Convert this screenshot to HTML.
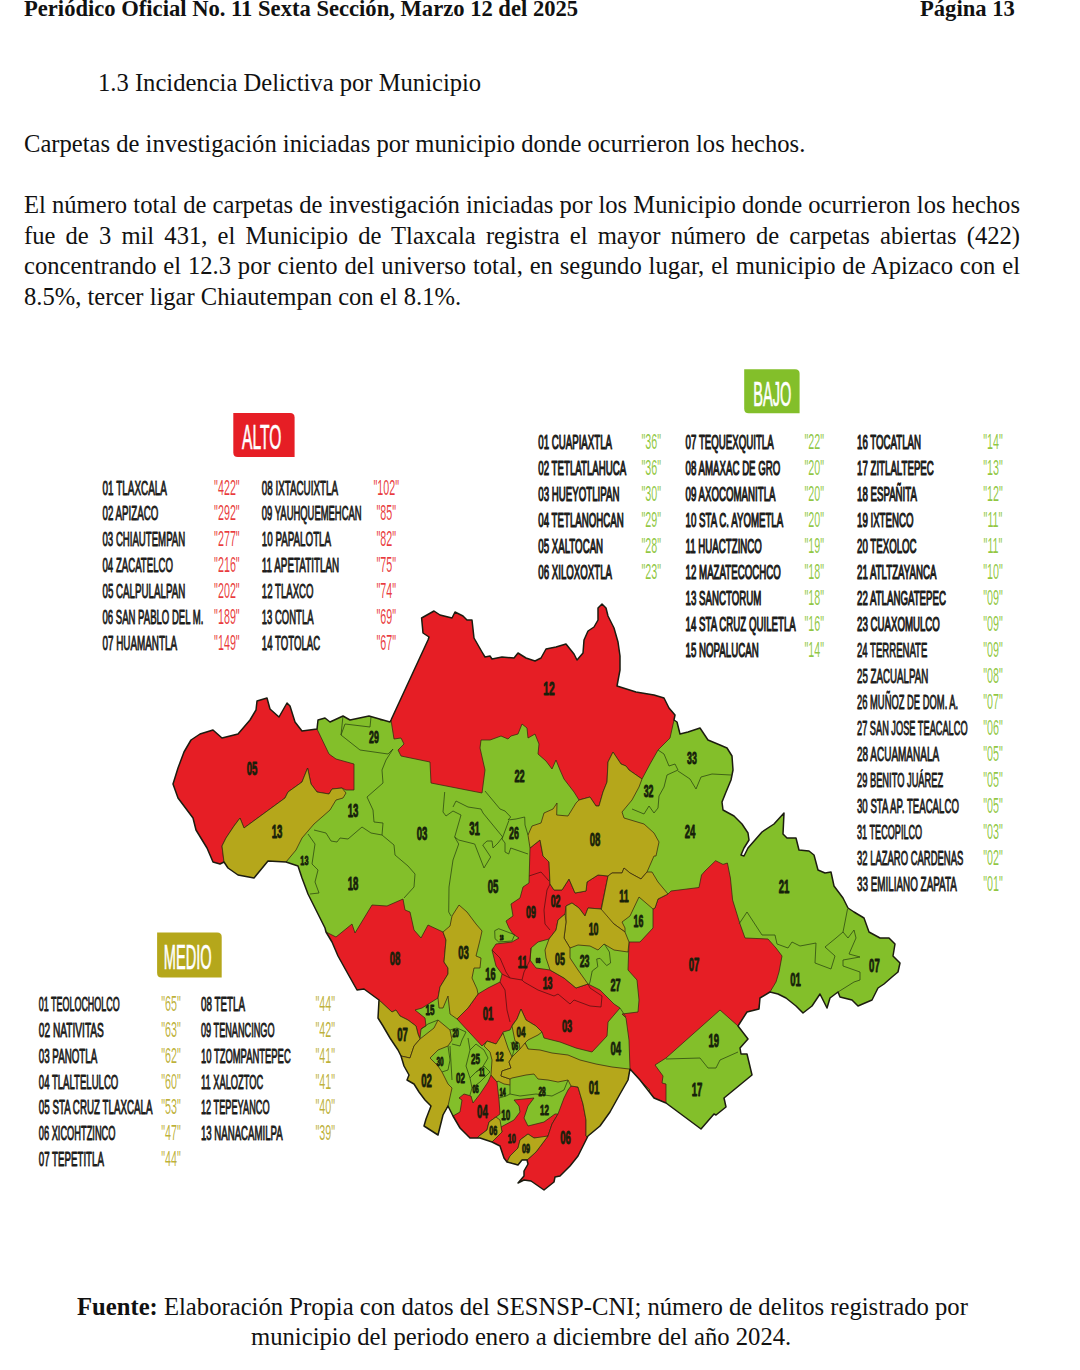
<!DOCTYPE html>
<html><head><meta charset="utf-8">
<style>
html,body{margin:0;padding:0;background:#fff;}
body{width:1080px;height:1370px;position:relative;overflow:hidden;font-family:"Liberation Serif",serif;color:#111;}
.t{position:absolute;white-space:nowrap;font-size:24.6px;line-height:30px;}
.h{position:absolute;white-space:nowrap;font-size:22.6px;line-height:26px;font-weight:bold;}
.j{position:absolute;left:24px;width:996px;font-size:24.6px;line-height:30.4px;text-align:justify;text-align-last:justify;white-space:nowrap;}
#map{position:absolute;left:0;top:350px;}
</style></head><body>
<div class="h" id="h1" style="left:24px;top:-4px;">Periódico Oficial No. 11 Sexta Sección, Marzo 12 del 2025</div>
<div class="h" id="h2" style="left:920px;top:-4px;">Página 13</div>
<div class="t" id="t1" style="left:98px;top:67.6px;">1.3 Incidencia Delictiva por Municipio</div>
<div class="t" id="t2" style="left:24px;top:129.3px;">Carpetas de investigación iniciadas por municipio donde ocurrieron los hechos.</div>
<div class="j" id="p1" style="top:190.3px;">El número total de carpetas de investigación iniciadas por los Municipio donde ocurrieron los hechos</div>
<div class="j" id="p2" style="top:220.8px;">fue de 3 mil 431, el Municipio de Tlaxcala registra el mayor número de carpetas abiertas (422)</div>
<div class="j" id="p3" style="top:251.3px;">concentrando el 12.3 por ciento del universo total, en segundo lugar, el municipio de Apizaco con el</div>
<div class="t" id="p4" style="left:24px;top:281.8px;">8.5%, tercer ligar Chiautempan con el 8.1%.</div>
<div class="t" id="f1" style="left:77px;top:1292.3px;font-size:24.66px;"><b>Fuente:</b> Elaboración Propia con datos del SESNSP-CNI; número de delitos registrado por</div>
<div class="t" id="f2" style="left:251px;top:1322.3px;font-size:24.66px;">municipio del periodo enero a diciembre del año 2024.</div>
<svg id="map" width="1080" height="900" viewBox="0 350 1080 900">
<!--MAP-->
<defs><clipPath id="sil"><polygon points="257,701 267,698 270,709 279,717 287,703 290,706 295,722 302,731 317,729 318,720 325,718 330,722 343,716 350,720 369,716 390,722 391,720 428,640 429,637 423,633 421.6,618 434,611 440,615 452,618 455,612 463,616 467,620 472,620 474,638 482,652 485,657 490,656 492,659 502,657 514,658 518,653 526,658 535,661 541,658 546,649 556,647 566,644 574,654 577,660 583,653 584,640 588,631 594,627 598,620 598,608 602,604 606,608 608,616 614,628 618,642 620,656 620,670 617,686 636,692 654,695 664,698 669,708 675,715 674,720 677,722 680,734 688,732 700,728 704,734 708,740 720,745 727,748 732,756 733,770 731,780 726,792 722,802 723,810 734,816 742,824 748,833 749,840 744,848 741,855 744,856 748,848 755,840 762,832 774,824 784,813 783,834 787,838 796,838 799,850 809,851 814,855 818,870 825,873 831,872 834,886 843,898 848,908 854,912 864,918 869,932 880,938 889,938 895,944 893,956 900,963 898,972 892,977 884,984 878,988 872,1000 858,1006 852,1000 840,997 838,992 830,998 827,1008 820,994 812,1006 803,1013 796,1006 786,998 778,994 770,992 760,998 759,1009 747,1012 738,1026 748,1039 740,1048 741,1054 747,1054 752,1075 724,1098 726,1107 716,1115 714,1114 701,1129 666,1103 654,1098 640,1080 630,1069 628,1080 620,1094 610,1112 600,1126 588,1136 583,1146 578,1156 570,1166 560,1176 555,1177 554,1182 544,1190 531,1181 524,1180 518,1183 524,1176 524,1171 528,1164 527,1160 522,1160 518,1165 507,1162 504,1158 500,1146 492,1142 480,1138 470,1138 460,1128 453,1116 448,1106 443,1115 438,1135 424,1126 426,1119 431,1106 425,1100 419,1092 414,1084 407,1080 409,1075 404,1066 401,1056 398,1050 390,1038 383,1026 378,1018 379,1000 364,989 357,990 348,974 338,956 332,942 326,932 325,928 320,918 314,906 308,894 302,878 298,866 286,862 268,861 254,878 238,875 228,868 224,862 220,864 213,862 207,848 196,830 193,818 178,798 173,784 178,768 184,752 191,740 200,734 213,730 222,738 238,734 250,720 256,710"/></clipPath></defs>
<g clip-path="url(#sil)" stroke="#3a2810" stroke-opacity="0.85" stroke-width="0.9" stroke-linejoin="round">
<rect x="150" y="590" width="780" height="620" fill="#83BF2A" stroke="none"/>
<polygon fill="#E61E25" points="240,690 317,690 317,729 329,754 336,759 354,764 354,790 346,790 342,788 332,789 329,794 317,792 311,784 307.6,768 302,782 288,792 285,798 244,828 240,818 234,826 226,838 222,846 224,862 220,880 160,880 160,690"/>
<polygon fill="#E61E25" points="391,720 394,739 401,738 404,744 398,750 401,756 430,762 431,783 482,793 485,770 480,748 481,740 490,740 501,736 508,739 511,736 518,734 522,724 527,728 528,738 535,734 539,744 538,754 546,761 552,769 556,760 560,770 564,779 574,792 579,800 590,797 596,806 599,806 603,792 607,782 608,762 613,752 621,764 626,766 629,770 642,779 650,764 658,750 670,738 674,720 700,700 700,590 400,590 380,720"/>
<polygon fill="#E61E25" points="310,925 326,932 336,937 352,924 355,933 372,905 387,906 403,899 405,910 410,912 414,930 421,938 428,925 443,932 446,940 444,962 448,968 448,974 440,987 438,998 422,1008 415,1010 425,1018 426,1026 421,1029 420,1038 418,1034 416,1026 408,1020 400,1016 396,1010 392,1012 379,1000 350,1000 310,960"/>
<polygon fill="#E61E25" points="540,840 543,856 549,862 550,884 554,890 562,890 569,879 575,893 586,891 587,882 598,875 608,876 601,909 588,908 585,916 579,908 572,903 566,906 565,914 558,920 556,930 549,939 538,942 531,948 530,960 536,968 550,970 564,978 576,988 588,984 600,990 614,1004 620,1008 608,1022 607,1036 592,1052 576,1048 560,1042 544,1038 542,1032 536,1026 526,1020 521,1009 517,1019 513,1024 510,1030 503,1032 500,1040 496,1044 487,1041 482,1046 457,1019 468,1008 478,994 488,988 500,982 502,974 496,966 492,950 496,944 512,942 519,938 513,934 509,928 506,921 513,916 511,904 520,898 523,887 529,883 530,848"/>
<polygon fill="#E61E25" points="668,894 671,891 699,887.5 701.5,875 705,871 715.6,860.7 723,864.4 727.4,863 730.4,878 732.6,900 740,924 745,938 768,939 776,948 782,956 779,972 776,982 770,992 760,998 759,1009 747,1012 738,1026 720,1010 684,1042 666,1058 655,1065 663,1076 662,1083 666,1084 666,1103 654,1098 640,1080 630,1069 629,1040 626,1018 622,1014 638,1012 639,1000 637,980 628,970 629,942 640,942 653,928 653,909 655,908 658,899"/>
<polygon fill="#E61E25" points="491,1075 497,1082 499,1100 500,1114 496,1117 489,1122 487,1130 479,1136 470,1150 440,1130 453,1116 460,1112 462,1100 459,1098 464,1094 471,1096 473,1103 480,1094 488,1082"/>
<polygon fill="#E61E25" points="514,1100 534,1098 528,1106 524,1118 528,1126 544,1122 555,1114 558,1114 552,1124 548,1136 542,1138 534,1138 528,1134 520,1140 518,1148 510,1156 507,1162 495,1170 485,1145 492,1142 502,1132 501,1127 514,1120 520,1112 519,1106"/>
<polygon fill="#E61E25" points="571,1086 578,1087 583,1104 586,1120 586,1136 600,1150 570,1200 510,1200 527,1160 536,1152 548,1136 552,1124 558,1114 564,1098 568,1090"/>
<polygon fill="#B5A71B" points="307.6,768 311,784 317,792 329,794 332,789 342,788 346,793 343,798 336,800 330,810 314,824 302,838 296,850 286,862 280,890 215,890 224,862 222,846 226,838 234,826 240,818 244,828 285,798 288,792 302,782"/>
<polygon fill="#B5A71B" points="528,835 532,826 541,823 544,813 553,809 557,803 556.7,815 568,816 576,803 579,800 590,797 596,806 599,806 603,792 607,782 608,762 613,752 621,764 626,766 629,770 642,779 639,787 632,800 622,812 624,818 644,824 654,833 659,842 656,856 654,856 647,872 641,879 630,873 624,868 622,873 612,873 608,876 598,875 587,882 586,891 575,893 569,879 562,890 554,890 550,884 549,862 543,856 540,840 530,848"/>
<polygon fill="#B5A71B" points="608,876 612,873 622,873 624,868 630,873 641,879 647,872 652,872 658,882 668,894 658,899 655,908 653,909 639,897 630,916 622,922 625,928 625,932 614,924 601,911"/>
<polygon fill="#B5A71B" points="566,906 572,903 579,908 585,916 588,908 601,909 614,924 625,932 629,942 628,952 614,950 604,944 598,950 590,946 578,945 570,948 564,938 566,922"/>
<polygon fill="#B5A71B" points="565,914 566,922 564,938 570,948 570,958 578,970 588,984 576,988 564,978 550,970 546,958 545,950 549,939 556,930 558,920"/>
<polygon fill="#B5A71B" points="459,905 467,912 476,924 482,931 480,940 476,956 481,958 480,968 474,968 472,978 477,989 478,994 468,1008 457,1019 450,1014 448,996 443,1008 439,1008 438,998 440,987 448,974 448,968 444,962 446,940 443,932 450,926 452,916"/>
<polygon fill="#B5A71B" points="379,1000 392,1012 396,1010 400,1016 408,1020 416,1026 418,1034 420,1039 414,1046 410,1058 401,1056 380,1060 360,1000"/>
<polygon fill="#B5A71B" points="401,1056 410,1058 414,1046 420,1039 434,1028 438,1020 450,1030 452,1040 448,1046 438,1050 430,1058 438,1066 442,1072 448,1084 452,1088 448,1106 443,1115 440,1145 410,1140 390,1070"/>
<polygon fill="#B5A71B" points="521,1009 526,1020 536,1026 542,1032 538,1035 528,1040 525,1043 528,1049 520,1049 519,1043 515,1041 512,1026 517,1019"/>
<polygon fill="#B5A71B" points="487,1041 496,1044 503,1033 508,1048 512,1057 509,1062 511,1068 502,1071 501,1076 510,1079 510,1085 504,1084 498,1081 497,1082 491,1075 492,1060 490,1052 484,1046"/>
<polygon fill="#B5A71B" points="525,1043 528,1049 540,1050 552,1053 568,1055 580,1060 596,1064 612,1067 629,1069 650,1090 600,1150 586,1136 586,1120 583,1104 578,1087 571,1086 568,1080 558,1082 548,1080 538,1079 534,1074 526,1075 512,1078 510,1079 501,1076 502,1071 511,1068 509,1062 512,1057 516,1053 520,1049"/>
<polygon fill="#B5A71B" points="489,1122 496,1117 500,1120 502,1132 492,1142 485,1150 470,1145 479,1136 487,1130"/>
<polygon fill="#B5A71B" points="520,1140 528,1134 534,1138 548,1136 536,1152 527,1160 522,1160 518,1165 507,1162 510,1156 518,1148"/>
</g>
<g fill="none" stroke="#2f4a12" stroke-width="0.8" stroke-linejoin="round">
<polyline points="341,735 345,724 370,727 371,717"/>
<polyline points="341,735 360,750 388,754 393,749"/>
<polyline points="341,735 343,716"/>
<polyline points="393,749 386,760 382,770 383,783 367,797 373,810 374,822 383,823 382,835"/>
<polyline points="314,830 326,833 331,841 337,842 340,838 348,839 362,827 371,833 382,835"/>
<polyline points="382,835 394,845 395,855 408,866 415,874 414,887 404,898"/>
<polyline points="308,834 315,844 312,864 318,870 315,882 319,893 310,894"/>
<polyline points="444.7,792 443,812 446,816 453,811 461,815 454.7,837 458.7,844 453,860 449,887 448.7,912 451,916"/>
<polyline points="453,807 456,801 468,807 481,809 483,813 502.7,837 498,843 493,848 492,841 487,841 482.7,845 490.7,857 484,868 474.7,844 458.7,840 454.7,837"/>
<polyline points="485,791 500,809 505,811 510.7,817 508,820 516,819 524.7,817 525,825 528,835"/>
<polyline points="508.7,821 502,839 505,843 505,852 508.7,854 510.7,848 528,854"/>
<polyline points="494.7,930.7 498.7,928.7 514.7,934.7 512,941 498.7,942 495,938.7 494.7,930.7"/>
<polyline points="658,750 664,754 669,766 675,764 678,770 667,775"/>
<polyline points="678,771 690,779 696,789 701,777 712,774 731,775"/>
<polyline points="667,775 664,787 659,796 658,808 654,813 649,806 644,814 632,809"/>
<polyline points="739,924 747,912 762,935 775,935 777,944 788,948 792,942 800,946 816,943 815,963 831,969 835,956 825,947 836,938 843,932 845,922 847.5,909"/>
<polyline points="843,932 848,938 854,930 856,938 849,954 860,957 843,960 843,966 860,972 860,980 854,982 838,992"/>
<polyline points="450,1030 457,1028 466,1032 462,1040 460,1046 452,1044"/>
<polyline points="448,1046 450,1060 448,1070 442,1072"/>
<polyline points="450,1046 452,1080"/>
<polyline points="468,1038 470,1050 466,1066 470,1078 472,1088 470,1095"/>
<polyline points="470,1050 476,1044 484,1050 488,1058 482,1068 476,1072 470,1078"/>
<polyline points="476,1072 484,1066 490,1072 480,1082 472,1088"/>
<polyline points="510,1085 510,1094 520,1096 536,1094 552,1096 564,1090 568,1080"/>
<polyline points="510,1094 506,1096 499,1098"/>
<polyline points="421,1029 428,1024 438,1020"/>
<polyline points="511,1042 514,1050 512,1057"/>
<polyline points="604.4,944 609.4,952 610.6,963 606.7,965.6 600,958.3 596.7,959 597.8,966.7 592.2,971 590,982 589,984.4"/>
<polyline points="620,1008 626,1017"/>
<polyline points="666,1059 700,1058 708,1068 716,1068 720,1060 738,1052"/>
</g>
<g fill="none" stroke="#5a1010" stroke-width="0.8" stroke-linejoin="round">
<polyline points="550,884 547,890 544,910 545,924 550,930"/>
<polyline points="529,876 541,872 549,881"/>
<polyline points="531,948 530,960 524,972 522,980"/>
<polyline points="502,974 510,978 522,980 524,982 538,990 554,996 558,994 570,1004 574,1000 590,1006 601,1007 602,996 590,988 588,984"/>
<polyline points="500,982 505,990 507,1010 510,1022"/>
<polyline points="492,950 500,958 506,972 510,978"/>
</g>
<polygon fill="none" stroke="#1c1c10" stroke-width="1.5" stroke-linejoin="round" points="257,701 267,698 270,709 279,717 287,703 290,706 295,722 302,731 317,729 318,720 325,718 330,722 343,716 350,720 369,716 390,722 391,720 428,640 429,637 423,633 421.6,618 434,611 440,615 452,618 455,612 463,616 467,620 472,620 474,638 482,652 485,657 490,656 492,659 502,657 514,658 518,653 526,658 535,661 541,658 546,649 556,647 566,644 574,654 577,660 583,653 584,640 588,631 594,627 598,620 598,608 602,604 606,608 608,616 614,628 618,642 620,656 620,670 617,686 636,692 654,695 664,698 669,708 675,715 674,720 677,722 680,734 688,732 700,728 704,734 708,740 720,745 727,748 732,756 733,770 731,780 726,792 722,802 723,810 734,816 742,824 748,833 749,840 744,848 741,855 744,856 748,848 755,840 762,832 774,824 784,813 783,834 787,838 796,838 799,850 809,851 814,855 818,870 825,873 831,872 834,886 843,898 848,908 854,912 864,918 869,932 880,938 889,938 895,944 893,956 900,963 898,972 892,977 884,984 878,988 872,1000 858,1006 852,1000 840,997 838,992 830,998 827,1008 820,994 812,1006 803,1013 796,1006 786,998 778,994 770,992 760,998 759,1009 747,1012 738,1026 748,1039 740,1048 741,1054 747,1054 752,1075 724,1098 726,1107 716,1115 714,1114 701,1129 666,1103 654,1098 640,1080 630,1069 628,1080 620,1094 610,1112 600,1126 588,1136 583,1146 578,1156 570,1166 560,1176 555,1177 554,1182 544,1190 531,1181 524,1180 518,1183 524,1176 524,1171 528,1164 527,1160 522,1160 518,1165 507,1162 504,1158 500,1146 492,1142 480,1138 470,1138 460,1128 453,1116 448,1106 443,1115 438,1135 424,1126 426,1119 431,1106 425,1100 419,1092 414,1084 407,1080 409,1075 404,1066 401,1056 398,1050 390,1038 383,1026 378,1018 379,1000 364,989 357,990 348,974 338,956 332,942 326,932 325,928 320,918 314,906 308,894 302,878 298,866 286,862 268,861 254,878 238,875 228,868 224,862 220,864 213,862 207,848 196,830 193,818 178,798 173,784 178,768 184,752 191,740 200,734 213,730 222,738 238,734 250,720 256,710"/>
<g font-family="Liberation Sans, sans-serif" font-weight="bold" fill="#16200a" text-anchor="middle">
<text transform="translate(252,774.5) scale(0.55,1)" font-size="17.46" stroke="#16200a" stroke-width="0.7" stroke-linejoin="round" vector-effect="non-scaling-stroke">05</text>
<text transform="translate(277,837.5) scale(0.55,1)" font-size="17.46" stroke="#16200a" stroke-width="0.7" stroke-linejoin="round" vector-effect="non-scaling-stroke">13</text>
<text transform="translate(353,816.5) scale(0.55,1)" font-size="17.46" stroke="#16200a" stroke-width="0.7" stroke-linejoin="round" vector-effect="non-scaling-stroke">13</text>
<text transform="translate(304.4,865) scale(0.55,1)" font-size="13.27" stroke="#16200a" stroke-width="0.7" stroke-linejoin="round" vector-effect="non-scaling-stroke">13</text>
<text transform="translate(353,889.5) scale(0.55,1)" font-size="17.46" stroke="#16200a" stroke-width="0.7" stroke-linejoin="round" vector-effect="non-scaling-stroke">18</text>
<text transform="translate(374,743) scale(0.55,1)" font-size="16.06" stroke="#16200a" stroke-width="0.7" stroke-linejoin="round" vector-effect="non-scaling-stroke">29</text>
<text transform="translate(549,695) scale(0.55,1)" font-size="18.85" stroke="#16200a" stroke-width="0.7" stroke-linejoin="round" vector-effect="non-scaling-stroke">12</text>
<text transform="translate(519.6,782.25) scale(0.55,1)" font-size="16.76" stroke="#16200a" stroke-width="0.7" stroke-linejoin="round" vector-effect="non-scaling-stroke">22</text>
<text transform="translate(422,839.5) scale(0.55,1)" font-size="17.46" stroke="#16200a" stroke-width="0.7" stroke-linejoin="round" vector-effect="non-scaling-stroke">03</text>
<text transform="translate(474.6,834.5) scale(0.55,1)" font-size="17.46" stroke="#16200a" stroke-width="0.7" stroke-linejoin="round" vector-effect="non-scaling-stroke">31</text>
<text transform="translate(514,839) scale(0.55,1)" font-size="16.06" stroke="#16200a" stroke-width="0.7" stroke-linejoin="round" vector-effect="non-scaling-stroke">26</text>
<text transform="translate(595,845.5) scale(0.55,1)" font-size="17.46" stroke="#16200a" stroke-width="0.7" stroke-linejoin="round" vector-effect="non-scaling-stroke">08</text>
<text transform="translate(692,764) scale(0.55,1)" font-size="16.06" stroke="#16200a" stroke-width="0.7" stroke-linejoin="round" vector-effect="non-scaling-stroke">33</text>
<text transform="translate(648.6,797) scale(0.55,1)" font-size="16.06" stroke="#16200a" stroke-width="0.7" stroke-linejoin="round" vector-effect="non-scaling-stroke">32</text>
<text transform="translate(690,837.5) scale(0.55,1)" font-size="17.46" stroke="#16200a" stroke-width="0.7" stroke-linejoin="round" vector-effect="non-scaling-stroke">24</text>
<text transform="translate(784,892.5) scale(0.55,1)" font-size="17.46" stroke="#16200a" stroke-width="0.7" stroke-linejoin="round" vector-effect="non-scaling-stroke">21</text>
<text transform="translate(795.5,985.5) scale(0.55,1)" font-size="17.46" stroke="#16200a" stroke-width="0.7" stroke-linejoin="round" vector-effect="non-scaling-stroke">01</text>
<text transform="translate(874.4,972.1) scale(0.55,1)" font-size="17.46" stroke="#16200a" stroke-width="0.7" stroke-linejoin="round" vector-effect="non-scaling-stroke">07</text>
<text transform="translate(713.8,1046.5) scale(0.55,1)" font-size="17.46" stroke="#16200a" stroke-width="0.7" stroke-linejoin="round" vector-effect="non-scaling-stroke">19</text>
<text transform="translate(697,1095.5) scale(0.55,1)" font-size="17.46" stroke="#16200a" stroke-width="0.7" stroke-linejoin="round" vector-effect="non-scaling-stroke">17</text>
<text transform="translate(615.6,991.25) scale(0.55,1)" font-size="16.76" stroke="#16200a" stroke-width="0.7" stroke-linejoin="round" vector-effect="non-scaling-stroke">27</text>
<text transform="translate(615.8,1054.5) scale(0.55,1)" font-size="17.46" stroke="#16200a" stroke-width="0.7" stroke-linejoin="round" vector-effect="non-scaling-stroke">04</text>
<text transform="translate(694,970.5) scale(0.55,1)" font-size="17.46" stroke="#16200a" stroke-width="0.7" stroke-linejoin="round" vector-effect="non-scaling-stroke">07</text>
<text transform="translate(493,893) scale(0.55,1)" font-size="17.46" stroke="#16200a" stroke-width="0.7" stroke-linejoin="round" vector-effect="non-scaling-stroke">05</text>
<text transform="translate(395,964.5) scale(0.55,1)" font-size="17.46" stroke="#16200a" stroke-width="0.7" stroke-linejoin="round" vector-effect="non-scaling-stroke">08</text>
<text transform="translate(463.6,958.5) scale(0.55,1)" font-size="17.46" stroke="#16200a" stroke-width="0.7" stroke-linejoin="round" vector-effect="non-scaling-stroke">03</text>
<text transform="translate(490.4,980.45) scale(0.55,1)" font-size="16.76" stroke="#16200a" stroke-width="0.7" stroke-linejoin="round" vector-effect="non-scaling-stroke">16</text>
<text transform="translate(430,1014.5) scale(0.55,1)" font-size="14.66" stroke="#16200a" stroke-width="0.7" stroke-linejoin="round" vector-effect="non-scaling-stroke">15</text>
<text transform="translate(488,1019.7) scale(0.55,1)" font-size="17.46" stroke="#16200a" stroke-width="0.7" stroke-linejoin="round" vector-effect="non-scaling-stroke">01</text>
<text transform="translate(402.6,1040.5) scale(0.55,1)" font-size="17.46" stroke="#16200a" stroke-width="0.7" stroke-linejoin="round" vector-effect="non-scaling-stroke">07</text>
<text transform="translate(455.6,1037) scale(0.55,1)" font-size="10.47" stroke="#16200a" stroke-width="0.7" stroke-linejoin="round" vector-effect="non-scaling-stroke">20</text>
<text transform="translate(440,1065.9) scale(0.55,1)" font-size="11.87" stroke="#16200a" stroke-width="0.7" stroke-linejoin="round" vector-effect="non-scaling-stroke">30</text>
<text transform="translate(475.6,1063.5) scale(0.55,1)" font-size="14.66" stroke="#16200a" stroke-width="0.7" stroke-linejoin="round" vector-effect="non-scaling-stroke">25</text>
<text transform="translate(482,1076) scale(0.55,1)" font-size="10.47" stroke="#16200a" stroke-width="0.7" stroke-linejoin="round" vector-effect="non-scaling-stroke">11</text>
<text transform="translate(460.4,1083.1) scale(0.55,1)" font-size="14.66" stroke="#16200a" stroke-width="0.7" stroke-linejoin="round" vector-effect="non-scaling-stroke">02</text>
<text transform="translate(475.6,1093) scale(0.55,1)" font-size="10.47" stroke="#16200a" stroke-width="0.7" stroke-linejoin="round" vector-effect="non-scaling-stroke">06</text>
<text transform="translate(426.6,1087.1) scale(0.55,1)" font-size="17.46" stroke="#16200a" stroke-width="0.7" stroke-linejoin="round" vector-effect="non-scaling-stroke">02</text>
<text transform="translate(482.4,1117.5) scale(0.55,1)" font-size="17.46" stroke="#16200a" stroke-width="0.7" stroke-linejoin="round" vector-effect="non-scaling-stroke">04</text>
<text transform="translate(499.6,1061) scale(0.55,1)" font-size="13.27" stroke="#16200a" stroke-width="0.7" stroke-linejoin="round" vector-effect="non-scaling-stroke">12</text>
<text transform="translate(515,1050) scale(0.55,1)" font-size="10.47" stroke="#16200a" stroke-width="0.7" stroke-linejoin="round" vector-effect="non-scaling-stroke">06</text>
<text transform="translate(502.6,1095.5) scale(0.55,1)" font-size="10.47" stroke="#16200a" stroke-width="0.7" stroke-linejoin="round" vector-effect="non-scaling-stroke">14</text>
<text transform="translate(505.8,1119.5) scale(0.55,1)" font-size="14.66" stroke="#16200a" stroke-width="0.7" stroke-linejoin="round" vector-effect="non-scaling-stroke">10</text>
<text transform="translate(493.3,1134.5) scale(0.55,1)" font-size="13.27" stroke="#16200a" stroke-width="0.7" stroke-linejoin="round" vector-effect="non-scaling-stroke">06</text>
<text transform="translate(511.8,1142.5) scale(0.55,1)" font-size="13.27" stroke="#16200a" stroke-width="0.7" stroke-linejoin="round" vector-effect="non-scaling-stroke">10</text>
<text transform="translate(501.6,939.5) scale(0.55,1)" font-size="6.28" stroke="#16200a" stroke-width="0.7" stroke-linejoin="round" vector-effect="non-scaling-stroke">18</text>
<text transform="translate(521,1036.5) scale(0.55,1)" font-size="14.66" stroke="#16200a" stroke-width="0.7" stroke-linejoin="round" vector-effect="non-scaling-stroke">04</text>
<text transform="translate(522.5,967.5) scale(0.55,1)" font-size="16.06" stroke="#16200a" stroke-width="0.7" stroke-linejoin="round" vector-effect="non-scaling-stroke">11</text>
<text transform="translate(567,1031.75) scale(0.55,1)" font-size="16.76" stroke="#16200a" stroke-width="0.7" stroke-linejoin="round" vector-effect="non-scaling-stroke">03</text>
<text transform="translate(594,1093.5) scale(0.55,1)" font-size="17.46" stroke="#16200a" stroke-width="0.7" stroke-linejoin="round" vector-effect="non-scaling-stroke">01</text>
<text transform="translate(542,1095.5) scale(0.55,1)" font-size="11.87" stroke="#16200a" stroke-width="0.7" stroke-linejoin="round" vector-effect="non-scaling-stroke">28</text>
<text transform="translate(544.6,1114.5) scale(0.55,1)" font-size="14.66" stroke="#16200a" stroke-width="0.7" stroke-linejoin="round" vector-effect="non-scaling-stroke">12</text>
<text transform="translate(565.6,1143.5) scale(0.55,1)" font-size="17.46" stroke="#16200a" stroke-width="0.7" stroke-linejoin="round" vector-effect="non-scaling-stroke">06</text>
<text transform="translate(526,1153) scale(0.55,1)" font-size="13.27" stroke="#16200a" stroke-width="0.7" stroke-linejoin="round" vector-effect="non-scaling-stroke">09</text>
<text transform="translate(531,918) scale(0.55,1)" font-size="16.06" stroke="#16200a" stroke-width="0.7" stroke-linejoin="round" vector-effect="non-scaling-stroke">09</text>
<text transform="translate(555.6,907) scale(0.55,1)" font-size="16.06" stroke="#16200a" stroke-width="0.7" stroke-linejoin="round" vector-effect="non-scaling-stroke">02</text>
<text transform="translate(624,902) scale(0.55,1)" font-size="16.06" stroke="#16200a" stroke-width="0.7" stroke-linejoin="round" vector-effect="non-scaling-stroke">11</text>
<text transform="translate(638.4,927) scale(0.55,1)" font-size="16.06" stroke="#16200a" stroke-width="0.7" stroke-linejoin="round" vector-effect="non-scaling-stroke">16</text>
<text transform="translate(593.6,935.4) scale(0.55,1)" font-size="16.06" stroke="#16200a" stroke-width="0.7" stroke-linejoin="round" vector-effect="non-scaling-stroke">10</text>
<text transform="translate(560,965) scale(0.55,1)" font-size="16.06" stroke="#16200a" stroke-width="0.7" stroke-linejoin="round" vector-effect="non-scaling-stroke">05</text>
<text transform="translate(584.6,967) scale(0.55,1)" font-size="16.06" stroke="#16200a" stroke-width="0.7" stroke-linejoin="round" vector-effect="non-scaling-stroke">23</text>
<text transform="translate(538,963) scale(0.55,1)" font-size="7.68" stroke="#16200a" stroke-width="0.7" stroke-linejoin="round" vector-effect="non-scaling-stroke">08</text>
<text transform="translate(547.6,989) scale(0.55,1)" font-size="16.06" stroke="#16200a" stroke-width="0.7" stroke-linejoin="round" vector-effect="non-scaling-stroke">13</text>
</g>
<path fill="#E61E25" d="M233.3,412.9 H290.1 Q294.6,412.9 294.6,417.4 V457.1 H237.8 Q233.3,457.1 233.3,452.6 Z"/>
<text x="242.1" y="448.75" font-family="Liberation Sans, sans-serif" font-size="34.36" fill="#fff" stroke="#fff" stroke-width="0.7" textLength="39.2" lengthAdjust="spacingAndGlyphs">ALTO</text>
<path fill="#83BF2A" d="M744.2,369.2 H795.1 Q799.6,369.2 799.6,373.7 V413.3 H748.7 Q744.2,413.3 744.2,408.8 Z"/>
<text x="753.3" y="405.8" font-family="Liberation Sans, sans-serif" font-size="34.36" fill="#fff" stroke="#fff" stroke-width="0.7" textLength="38.0" lengthAdjust="spacingAndGlyphs">BAJO</text>
<path fill="#B5A71B" d="M157.1,932.5 H217.2 Q221.7,932.5 221.7,937.0 V977.5 H161.6 Q157.1,977.5 157.1,973.0 Z"/>
<text x="163.75" y="969.2" font-family="Liberation Sans, sans-serif" font-size="34.36" fill="#fff" stroke="#fff" stroke-width="0.7" textLength="47.9" lengthAdjust="spacingAndGlyphs">MEDIO</text>
<g font-family="Liberation Sans, sans-serif">
<text class="nm" x="102.5" y="494.60" textLength="64.5" lengthAdjust="spacingAndGlyphs" font-size="20.2" fill="#1d1d1b" stroke="#1d1d1b" stroke-width="0.95" stroke-linejoin="round" vector-effect="non-scaling-stroke">01 TLAXCALA</text>
<text class="nu" transform="translate(226.9,494.60) scale(0.5,1)" font-size="21.5" text-anchor="middle" fill="#E61E25" fill-opacity="0.88">&quot;422&quot;</text>
<text class="nm" x="102.5" y="520.45" textLength="55.8" lengthAdjust="spacingAndGlyphs" font-size="20.2" fill="#1d1d1b" stroke="#1d1d1b" stroke-width="0.95" stroke-linejoin="round" vector-effect="non-scaling-stroke">02 APIZACO</text>
<text class="nu" transform="translate(226.9,520.45) scale(0.5,1)" font-size="21.5" text-anchor="middle" fill="#E61E25" fill-opacity="0.88">&quot;292&quot;</text>
<text class="nm" x="102.5" y="546.30" textLength="82.7" lengthAdjust="spacingAndGlyphs" font-size="20.2" fill="#1d1d1b" stroke="#1d1d1b" stroke-width="0.95" stroke-linejoin="round" vector-effect="non-scaling-stroke">03 CHIAUTEMPAN</text>
<text class="nu" transform="translate(226.9,546.30) scale(0.5,1)" font-size="21.5" text-anchor="middle" fill="#E61E25" fill-opacity="0.88">&quot;277&quot;</text>
<text class="nm" x="102.5" y="572.15" textLength="70.5" lengthAdjust="spacingAndGlyphs" font-size="20.2" fill="#1d1d1b" stroke="#1d1d1b" stroke-width="0.95" stroke-linejoin="round" vector-effect="non-scaling-stroke">04 ZACATELCO</text>
<text class="nu" transform="translate(226.9,572.15) scale(0.5,1)" font-size="21.5" text-anchor="middle" fill="#E61E25" fill-opacity="0.88">&quot;216&quot;</text>
<text class="nm" x="102.5" y="598.00" textLength="82.7" lengthAdjust="spacingAndGlyphs" font-size="20.2" fill="#1d1d1b" stroke="#1d1d1b" stroke-width="0.95" stroke-linejoin="round" vector-effect="non-scaling-stroke">05 CALPULALPAN</text>
<text class="nu" transform="translate(226.9,598.00) scale(0.5,1)" font-size="21.5" text-anchor="middle" fill="#E61E25" fill-opacity="0.88">&quot;202&quot;</text>
<text class="nm" x="102.5" y="623.85" textLength="101" lengthAdjust="spacingAndGlyphs" font-size="20.2" fill="#1d1d1b" stroke="#1d1d1b" stroke-width="0.95" stroke-linejoin="round" vector-effect="non-scaling-stroke">06 SAN PABLO DEL M.</text>
<text class="nu" transform="translate(226.9,623.85) scale(0.5,1)" font-size="21.5" text-anchor="middle" fill="#E61E25" fill-opacity="0.88">&quot;189&quot;</text>
<text class="nm" x="102.5" y="649.70" textLength="74.6" lengthAdjust="spacingAndGlyphs" font-size="20.2" fill="#1d1d1b" stroke="#1d1d1b" stroke-width="0.95" stroke-linejoin="round" vector-effect="non-scaling-stroke">07 HUAMANTLA</text>
<text class="nu" transform="translate(226.9,649.70) scale(0.5,1)" font-size="21.5" text-anchor="middle" fill="#E61E25" fill-opacity="0.88">&quot;149&quot;</text>
<text class="nm" x="261.8" y="494.60" textLength="76.2" lengthAdjust="spacingAndGlyphs" font-size="20.2" fill="#1d1d1b" stroke="#1d1d1b" stroke-width="0.95" stroke-linejoin="round" vector-effect="non-scaling-stroke">08 IXTACUIXTLA</text>
<text class="nu" transform="translate(386.3,494.60) scale(0.5,1)" font-size="21.5" text-anchor="middle" fill="#E61E25" fill-opacity="0.88">&quot;102&quot;</text>
<text class="nm" x="261.8" y="520.45" textLength="99.8" lengthAdjust="spacingAndGlyphs" font-size="20.2" fill="#1d1d1b" stroke="#1d1d1b" stroke-width="0.95" stroke-linejoin="round" vector-effect="non-scaling-stroke">09 YAUHQUEMEHCAN</text>
<text class="nu" transform="translate(386.3,520.45) scale(0.5,1)" font-size="21.5" text-anchor="middle" fill="#E61E25" fill-opacity="0.88">&quot;85&quot;</text>
<text class="nm" x="261.8" y="546.30" textLength="69.3" lengthAdjust="spacingAndGlyphs" font-size="20.2" fill="#1d1d1b" stroke="#1d1d1b" stroke-width="0.95" stroke-linejoin="round" vector-effect="non-scaling-stroke">10 PAPALOTLA</text>
<text class="nu" transform="translate(386.3,546.30) scale(0.5,1)" font-size="21.5" text-anchor="middle" fill="#E61E25" fill-opacity="0.88">&quot;82&quot;</text>
<text class="nm" x="261.8" y="572.15" textLength="77.4" lengthAdjust="spacingAndGlyphs" font-size="20.2" fill="#1d1d1b" stroke="#1d1d1b" stroke-width="0.95" stroke-linejoin="round" vector-effect="non-scaling-stroke">11 APETATITLAN</text>
<text class="nu" transform="translate(386.3,572.15) scale(0.5,1)" font-size="21.5" text-anchor="middle" fill="#E61E25" fill-opacity="0.88">&quot;75&quot;</text>
<text class="nm" x="261.8" y="598.00" textLength="51.7" lengthAdjust="spacingAndGlyphs" font-size="20.2" fill="#1d1d1b" stroke="#1d1d1b" stroke-width="0.95" stroke-linejoin="round" vector-effect="non-scaling-stroke">12 TLAXCO</text>
<text class="nu" transform="translate(386.3,598.00) scale(0.5,1)" font-size="21.5" text-anchor="middle" fill="#E61E25" fill-opacity="0.88">&quot;74&quot;</text>
<text class="nm" x="261.8" y="623.85" textLength="51.7" lengthAdjust="spacingAndGlyphs" font-size="20.2" fill="#1d1d1b" stroke="#1d1d1b" stroke-width="0.95" stroke-linejoin="round" vector-effect="non-scaling-stroke">13 CONTLA</text>
<text class="nu" transform="translate(386.3,623.85) scale(0.5,1)" font-size="21.5" text-anchor="middle" fill="#E61E25" fill-opacity="0.88">&quot;69&quot;</text>
<text class="nm" x="261.8" y="649.70" textLength="58.3" lengthAdjust="spacingAndGlyphs" font-size="20.2" fill="#1d1d1b" stroke="#1d1d1b" stroke-width="0.95" stroke-linejoin="round" vector-effect="non-scaling-stroke">14 TOTOLAC</text>
<text class="nu" transform="translate(386.3,649.70) scale(0.5,1)" font-size="21.5" text-anchor="middle" fill="#E61E25" fill-opacity="0.88">&quot;67&quot;</text>
<text class="nm" transform="translate(538.3,449.10) scale(0.48,1)" font-size="20.2" fill="#1d1d1b" stroke="#1d1d1b" stroke-width="0.95" stroke-linejoin="round" vector-effect="non-scaling-stroke">01 CUAPIAXTLA</text>
<text class="nu" transform="translate(651.2,449.10) scale(0.5,1)" font-size="21.5" text-anchor="middle" fill="#83BF2A" fill-opacity="0.88">&quot;36&quot;</text>
<text class="nm" transform="translate(538.3,475.08) scale(0.48,1)" font-size="20.2" fill="#1d1d1b" stroke="#1d1d1b" stroke-width="0.95" stroke-linejoin="round" vector-effect="non-scaling-stroke">02 TETLATLAHUCA</text>
<text class="nu" transform="translate(651.2,475.08) scale(0.5,1)" font-size="21.5" text-anchor="middle" fill="#83BF2A" fill-opacity="0.88">&quot;36&quot;</text>
<text class="nm" transform="translate(538.3,501.06) scale(0.48,1)" font-size="20.2" fill="#1d1d1b" stroke="#1d1d1b" stroke-width="0.95" stroke-linejoin="round" vector-effect="non-scaling-stroke">03 HUEYOTLIPAN</text>
<text class="nu" transform="translate(651.2,501.06) scale(0.5,1)" font-size="21.5" text-anchor="middle" fill="#83BF2A" fill-opacity="0.88">&quot;30&quot;</text>
<text class="nm" transform="translate(538.3,527.04) scale(0.48,1)" font-size="20.2" fill="#1d1d1b" stroke="#1d1d1b" stroke-width="0.95" stroke-linejoin="round" vector-effect="non-scaling-stroke">04 TETLANOHCAN</text>
<text class="nu" transform="translate(651.2,527.04) scale(0.5,1)" font-size="21.5" text-anchor="middle" fill="#83BF2A" fill-opacity="0.88">&quot;29&quot;</text>
<text class="nm" transform="translate(538.3,553.02) scale(0.48,1)" font-size="20.2" fill="#1d1d1b" stroke="#1d1d1b" stroke-width="0.95" stroke-linejoin="round" vector-effect="non-scaling-stroke">05 XALTOCAN</text>
<text class="nu" transform="translate(651.2,553.02) scale(0.5,1)" font-size="21.5" text-anchor="middle" fill="#83BF2A" fill-opacity="0.88">&quot;28&quot;</text>
<text class="nm" transform="translate(538.3,579.00) scale(0.48,1)" font-size="20.2" fill="#1d1d1b" stroke="#1d1d1b" stroke-width="0.95" stroke-linejoin="round" vector-effect="non-scaling-stroke">06 XILOXOXTLA</text>
<text class="nu" transform="translate(651.2,579.00) scale(0.5,1)" font-size="21.5" text-anchor="middle" fill="#83BF2A" fill-opacity="0.88">&quot;23&quot;</text>
<text class="nm" transform="translate(685.6,449.10) scale(0.48,1)" font-size="20.2" fill="#1d1d1b" stroke="#1d1d1b" stroke-width="0.95" stroke-linejoin="round" vector-effect="non-scaling-stroke">07 TEQUEXQUITLA</text>
<text class="nu" transform="translate(814.2,449.10) scale(0.5,1)" font-size="21.5" text-anchor="middle" fill="#83BF2A" fill-opacity="0.88">&quot;22&quot;</text>
<text class="nm" transform="translate(685.6,475.08) scale(0.48,1)" font-size="20.2" fill="#1d1d1b" stroke="#1d1d1b" stroke-width="0.95" stroke-linejoin="round" vector-effect="non-scaling-stroke">08 AMAXAC DE GRO</text>
<text class="nu" transform="translate(814.2,475.08) scale(0.5,1)" font-size="21.5" text-anchor="middle" fill="#83BF2A" fill-opacity="0.88">&quot;20&quot;</text>
<text class="nm" transform="translate(685.6,501.06) scale(0.48,1)" font-size="20.2" fill="#1d1d1b" stroke="#1d1d1b" stroke-width="0.95" stroke-linejoin="round" vector-effect="non-scaling-stroke">09 AXOCOMANITLA</text>
<text class="nu" transform="translate(814.2,501.06) scale(0.5,1)" font-size="21.5" text-anchor="middle" fill="#83BF2A" fill-opacity="0.88">&quot;20&quot;</text>
<text class="nm" transform="translate(685.6,527.04) scale(0.48,1)" font-size="20.2" fill="#1d1d1b" stroke="#1d1d1b" stroke-width="0.95" stroke-linejoin="round" vector-effect="non-scaling-stroke">10 STA C. AYOMETLA</text>
<text class="nu" transform="translate(814.2,527.04) scale(0.5,1)" font-size="21.5" text-anchor="middle" fill="#83BF2A" fill-opacity="0.88">&quot;20&quot;</text>
<text class="nm" transform="translate(685.6,553.02) scale(0.48,1)" font-size="20.2" fill="#1d1d1b" stroke="#1d1d1b" stroke-width="0.95" stroke-linejoin="round" vector-effect="non-scaling-stroke">11 HUACTZINCO</text>
<text class="nu" transform="translate(814.2,553.02) scale(0.5,1)" font-size="21.5" text-anchor="middle" fill="#83BF2A" fill-opacity="0.88">&quot;19&quot;</text>
<text class="nm" transform="translate(685.6,579.00) scale(0.48,1)" font-size="20.2" fill="#1d1d1b" stroke="#1d1d1b" stroke-width="0.95" stroke-linejoin="round" vector-effect="non-scaling-stroke">12 MAZATECOCHCO</text>
<text class="nu" transform="translate(814.2,579.00) scale(0.5,1)" font-size="21.5" text-anchor="middle" fill="#83BF2A" fill-opacity="0.88">&quot;18&quot;</text>
<text class="nm" transform="translate(685.6,604.98) scale(0.48,1)" font-size="20.2" fill="#1d1d1b" stroke="#1d1d1b" stroke-width="0.95" stroke-linejoin="round" vector-effect="non-scaling-stroke">13 SANCTORUM</text>
<text class="nu" transform="translate(814.2,604.98) scale(0.5,1)" font-size="21.5" text-anchor="middle" fill="#83BF2A" fill-opacity="0.88">&quot;18&quot;</text>
<text class="nm" transform="translate(685.6,630.96) scale(0.48,1)" font-size="20.2" fill="#1d1d1b" stroke="#1d1d1b" stroke-width="0.95" stroke-linejoin="round" vector-effect="non-scaling-stroke">14 STA CRUZ QUILETLA</text>
<text class="nu" transform="translate(814.2,630.96) scale(0.5,1)" font-size="21.5" text-anchor="middle" fill="#83BF2A" fill-opacity="0.88">&quot;16&quot;</text>
<text class="nm" transform="translate(685.6,656.94) scale(0.48,1)" font-size="20.2" fill="#1d1d1b" stroke="#1d1d1b" stroke-width="0.95" stroke-linejoin="round" vector-effect="non-scaling-stroke">15 NOPALUCAN</text>
<text class="nu" transform="translate(814.2,656.94) scale(0.5,1)" font-size="21.5" text-anchor="middle" fill="#83BF2A" fill-opacity="0.88">&quot;14&quot;</text>
<text class="nm" transform="translate(857,449.10) scale(0.48,1)" font-size="20.2" fill="#1d1d1b" stroke="#1d1d1b" stroke-width="0.95" stroke-linejoin="round" vector-effect="non-scaling-stroke">16 TOCATLAN</text>
<text class="nu" transform="translate(993,449.10) scale(0.5,1)" font-size="21.5" text-anchor="middle" fill="#83BF2A" fill-opacity="0.88">&quot;14&quot;</text>
<text class="nm" transform="translate(857,475.08) scale(0.48,1)" font-size="20.2" fill="#1d1d1b" stroke="#1d1d1b" stroke-width="0.95" stroke-linejoin="round" vector-effect="non-scaling-stroke">17 ZITLALTEPEC</text>
<text class="nu" transform="translate(993,475.08) scale(0.5,1)" font-size="21.5" text-anchor="middle" fill="#83BF2A" fill-opacity="0.88">&quot;13&quot;</text>
<text class="nm" transform="translate(857,501.06) scale(0.48,1)" font-size="20.2" fill="#1d1d1b" stroke="#1d1d1b" stroke-width="0.95" stroke-linejoin="round" vector-effect="non-scaling-stroke">18 ESPAÑITA</text>
<text class="nu" transform="translate(993,501.06) scale(0.5,1)" font-size="21.5" text-anchor="middle" fill="#83BF2A" fill-opacity="0.88">&quot;12&quot;</text>
<text class="nm" transform="translate(857,527.04) scale(0.48,1)" font-size="20.2" fill="#1d1d1b" stroke="#1d1d1b" stroke-width="0.95" stroke-linejoin="round" vector-effect="non-scaling-stroke">19 IXTENCO</text>
<text class="nu" transform="translate(993,527.04) scale(0.5,1)" font-size="21.5" text-anchor="middle" fill="#83BF2A" fill-opacity="0.88">&quot;11&quot;</text>
<text class="nm" transform="translate(857,553.02) scale(0.48,1)" font-size="20.2" fill="#1d1d1b" stroke="#1d1d1b" stroke-width="0.95" stroke-linejoin="round" vector-effect="non-scaling-stroke">20 TEXOLOC</text>
<text class="nu" transform="translate(993,553.02) scale(0.5,1)" font-size="21.5" text-anchor="middle" fill="#83BF2A" fill-opacity="0.88">&quot;11&quot;</text>
<text class="nm" transform="translate(857,579.00) scale(0.48,1)" font-size="20.2" fill="#1d1d1b" stroke="#1d1d1b" stroke-width="0.95" stroke-linejoin="round" vector-effect="non-scaling-stroke">21 ATLTZAYANCA</text>
<text class="nu" transform="translate(993,579.00) scale(0.5,1)" font-size="21.5" text-anchor="middle" fill="#83BF2A" fill-opacity="0.88">&quot;10&quot;</text>
<text class="nm" transform="translate(857,604.98) scale(0.48,1)" font-size="20.2" fill="#1d1d1b" stroke="#1d1d1b" stroke-width="0.95" stroke-linejoin="round" vector-effect="non-scaling-stroke">22 ATLANGATEPEC</text>
<text class="nu" transform="translate(993,604.98) scale(0.5,1)" font-size="21.5" text-anchor="middle" fill="#83BF2A" fill-opacity="0.88">&quot;09&quot;</text>
<text class="nm" transform="translate(857,630.96) scale(0.48,1)" font-size="20.2" fill="#1d1d1b" stroke="#1d1d1b" stroke-width="0.95" stroke-linejoin="round" vector-effect="non-scaling-stroke">23 CUAXOMULCO</text>
<text class="nu" transform="translate(993,630.96) scale(0.5,1)" font-size="21.5" text-anchor="middle" fill="#83BF2A" fill-opacity="0.88">&quot;09&quot;</text>
<text class="nm" x="857" y="656.94" textLength="70.3" lengthAdjust="spacingAndGlyphs" font-size="20.2" fill="#1d1d1b" stroke="#1d1d1b" stroke-width="0.95" stroke-linejoin="round" vector-effect="non-scaling-stroke">24 TERRENATE</text>
<text class="nu" transform="translate(993,656.94) scale(0.5,1)" font-size="21.5" text-anchor="middle" fill="#83BF2A" fill-opacity="0.88">&quot;09&quot;</text>
<text class="nm" x="857" y="682.92" textLength="71.3" lengthAdjust="spacingAndGlyphs" font-size="20.2" fill="#1d1d1b" stroke="#1d1d1b" stroke-width="0.95" stroke-linejoin="round" vector-effect="non-scaling-stroke">25 ZACUALPAN</text>
<text class="nu" transform="translate(993,682.92) scale(0.5,1)" font-size="21.5" text-anchor="middle" fill="#83BF2A" fill-opacity="0.88">&quot;08&quot;</text>
<text class="nm" x="857" y="708.90" textLength="101.2" lengthAdjust="spacingAndGlyphs" font-size="20.2" fill="#1d1d1b" stroke="#1d1d1b" stroke-width="0.95" stroke-linejoin="round" vector-effect="non-scaling-stroke">26 MUÑOZ DE DOM. A.</text>
<text class="nu" transform="translate(993,708.90) scale(0.5,1)" font-size="21.5" text-anchor="middle" fill="#83BF2A" fill-opacity="0.88">&quot;07&quot;</text>
<text class="nm" x="857" y="734.88" textLength="110.6" lengthAdjust="spacingAndGlyphs" font-size="20.2" fill="#1d1d1b" stroke="#1d1d1b" stroke-width="0.95" stroke-linejoin="round" vector-effect="non-scaling-stroke">27 SAN JOSE TEACALCO</text>
<text class="nu" transform="translate(993,734.88) scale(0.5,1)" font-size="21.5" text-anchor="middle" fill="#83BF2A" fill-opacity="0.88">&quot;06&quot;</text>
<text class="nm" x="857" y="760.86" textLength="82.1" lengthAdjust="spacingAndGlyphs" font-size="20.2" fill="#1d1d1b" stroke="#1d1d1b" stroke-width="0.95" stroke-linejoin="round" vector-effect="non-scaling-stroke">28 ACUAMANALA</text>
<text class="nu" transform="translate(993,760.86) scale(0.5,1)" font-size="21.5" text-anchor="middle" fill="#83BF2A" fill-opacity="0.88">&quot;05&quot;</text>
<text class="nm" x="857" y="786.84" textLength="86.2" lengthAdjust="spacingAndGlyphs" font-size="20.2" fill="#1d1d1b" stroke="#1d1d1b" stroke-width="0.95" stroke-linejoin="round" vector-effect="non-scaling-stroke">29 BENITO JUÁREZ</text>
<text class="nu" transform="translate(993,786.84) scale(0.5,1)" font-size="21.5" text-anchor="middle" fill="#83BF2A" fill-opacity="0.88">&quot;05&quot;</text>
<text class="nm" x="857" y="812.82" textLength="101.9" lengthAdjust="spacingAndGlyphs" font-size="20.2" fill="#1d1d1b" stroke="#1d1d1b" stroke-width="0.95" stroke-linejoin="round" vector-effect="non-scaling-stroke">30 STA AP. TEACALCO</text>
<text class="nu" transform="translate(993,812.82) scale(0.5,1)" font-size="21.5" text-anchor="middle" fill="#83BF2A" fill-opacity="0.88">&quot;05&quot;</text>
<text class="nm" x="857" y="838.80" textLength="65.2" lengthAdjust="spacingAndGlyphs" font-size="20.2" fill="#1d1d1b" stroke="#1d1d1b" stroke-width="0.95" stroke-linejoin="round" vector-effect="non-scaling-stroke">31 TECOPILCO</text>
<text class="nu" transform="translate(993,838.80) scale(0.5,1)" font-size="21.5" text-anchor="middle" fill="#83BF2A" fill-opacity="0.88">&quot;03&quot;</text>
<text class="nm" x="857" y="864.78" textLength="106.3" lengthAdjust="spacingAndGlyphs" font-size="20.2" fill="#1d1d1b" stroke="#1d1d1b" stroke-width="0.95" stroke-linejoin="round" vector-effect="non-scaling-stroke">32 LAZARO CARDENAS</text>
<text class="nu" transform="translate(993,864.78) scale(0.5,1)" font-size="21.5" text-anchor="middle" fill="#83BF2A" fill-opacity="0.88">&quot;02&quot;</text>
<text class="nm" x="857" y="890.76" textLength="99.8" lengthAdjust="spacingAndGlyphs" font-size="20.2" fill="#1d1d1b" stroke="#1d1d1b" stroke-width="0.95" stroke-linejoin="round" vector-effect="non-scaling-stroke">33 EMILIANO ZAPATA</text>
<text class="nu" transform="translate(993,890.76) scale(0.5,1)" font-size="21.5" text-anchor="middle" fill="#83BF2A" fill-opacity="0.88">&quot;01&quot;</text>
<text class="nm" x="38.8" y="1010.80" textLength="80.9" lengthAdjust="spacingAndGlyphs" font-size="20.2" fill="#1d1d1b" stroke="#1d1d1b" stroke-width="0.95" stroke-linejoin="round" vector-effect="non-scaling-stroke">01 TEOLOCHOLCO</text>
<text class="nu" transform="translate(171,1010.80) scale(0.5,1)" font-size="21.5" text-anchor="middle" fill="#B5A71B" fill-opacity="0.88">&quot;65&quot;</text>
<text class="nm" x="38.8" y="1036.70" textLength="65.1" lengthAdjust="spacingAndGlyphs" font-size="20.2" fill="#1d1d1b" stroke="#1d1d1b" stroke-width="0.95" stroke-linejoin="round" vector-effect="non-scaling-stroke">02 NATIVITAS</text>
<text class="nu" transform="translate(171,1036.70) scale(0.5,1)" font-size="21.5" text-anchor="middle" fill="#B5A71B" fill-opacity="0.88">&quot;63&quot;</text>
<text class="nm" x="38.8" y="1062.60" textLength="58.4" lengthAdjust="spacingAndGlyphs" font-size="20.2" fill="#1d1d1b" stroke="#1d1d1b" stroke-width="0.95" stroke-linejoin="round" vector-effect="non-scaling-stroke">03 PANOTLA</text>
<text class="nu" transform="translate(171,1062.60) scale(0.5,1)" font-size="21.5" text-anchor="middle" fill="#B5A71B" fill-opacity="0.88">&quot;62&quot;</text>
<text class="nm" x="38.8" y="1088.50" textLength="79.5" lengthAdjust="spacingAndGlyphs" font-size="20.2" fill="#1d1d1b" stroke="#1d1d1b" stroke-width="0.95" stroke-linejoin="round" vector-effect="non-scaling-stroke">04 TLALTELULCO</text>
<text class="nu" transform="translate(171,1088.50) scale(0.5,1)" font-size="21.5" text-anchor="middle" fill="#B5A71B" fill-opacity="0.88">&quot;60&quot;</text>
<text class="nm" x="38.8" y="1114.40" textLength="113.7" lengthAdjust="spacingAndGlyphs" font-size="20.2" fill="#1d1d1b" stroke="#1d1d1b" stroke-width="0.95" stroke-linejoin="round" vector-effect="non-scaling-stroke">05 STA CRUZ TLAXCALA</text>
<text class="nu" transform="translate(171,1114.40) scale(0.5,1)" font-size="21.5" text-anchor="middle" fill="#B5A71B" fill-opacity="0.88">&quot;53&quot;</text>
<text class="nm" x="38.8" y="1140.30" textLength="76.7" lengthAdjust="spacingAndGlyphs" font-size="20.2" fill="#1d1d1b" stroke="#1d1d1b" stroke-width="0.95" stroke-linejoin="round" vector-effect="non-scaling-stroke">06 XICOHTZINCO</text>
<text class="nu" transform="translate(171,1140.30) scale(0.5,1)" font-size="21.5" text-anchor="middle" fill="#B5A71B" fill-opacity="0.88">&quot;47&quot;</text>
<text class="nm" x="38.8" y="1166.20" textLength="65.1" lengthAdjust="spacingAndGlyphs" font-size="20.2" fill="#1d1d1b" stroke="#1d1d1b" stroke-width="0.95" stroke-linejoin="round" vector-effect="non-scaling-stroke">07 TEPETITLA</text>
<text class="nu" transform="translate(171,1166.20) scale(0.5,1)" font-size="21.5" text-anchor="middle" fill="#B5A71B" fill-opacity="0.88">&quot;44&quot;</text>
<text class="nm" x="201" y="1010.80" textLength="44" lengthAdjust="spacingAndGlyphs" font-size="20.2" fill="#1d1d1b" stroke="#1d1d1b" stroke-width="0.95" stroke-linejoin="round" vector-effect="non-scaling-stroke">08 TETLA</text>
<text class="nu" transform="translate(325.2,1010.80) scale(0.5,1)" font-size="21.5" text-anchor="middle" fill="#B5A71B" fill-opacity="0.88">&quot;44&quot;</text>
<text class="nm" x="201" y="1036.70" textLength="73.5" lengthAdjust="spacingAndGlyphs" font-size="20.2" fill="#1d1d1b" stroke="#1d1d1b" stroke-width="0.95" stroke-linejoin="round" vector-effect="non-scaling-stroke">09 TENANCINGO</text>
<text class="nu" transform="translate(325.2,1036.70) scale(0.5,1)" font-size="21.5" text-anchor="middle" fill="#B5A71B" fill-opacity="0.88">&quot;42&quot;</text>
<text class="nm" x="201" y="1062.60" textLength="89.7" lengthAdjust="spacingAndGlyphs" font-size="20.2" fill="#1d1d1b" stroke="#1d1d1b" stroke-width="0.95" stroke-linejoin="round" vector-effect="non-scaling-stroke">10 TZOMPANTEPEC</text>
<text class="nu" transform="translate(325.2,1062.60) scale(0.5,1)" font-size="21.5" text-anchor="middle" fill="#B5A71B" fill-opacity="0.88">&quot;41&quot;</text>
<text class="nm" x="201" y="1088.50" textLength="62.3" lengthAdjust="spacingAndGlyphs" font-size="20.2" fill="#1d1d1b" stroke="#1d1d1b" stroke-width="0.95" stroke-linejoin="round" vector-effect="non-scaling-stroke">11 XALOZTOC</text>
<text class="nu" transform="translate(325.2,1088.50) scale(0.5,1)" font-size="21.5" text-anchor="middle" fill="#B5A71B" fill-opacity="0.88">&quot;41&quot;</text>
<text class="nm" x="201" y="1114.40" textLength="68.6" lengthAdjust="spacingAndGlyphs" font-size="20.2" fill="#1d1d1b" stroke="#1d1d1b" stroke-width="0.95" stroke-linejoin="round" vector-effect="non-scaling-stroke">12 TEPEYANCO</text>
<text class="nu" transform="translate(325.2,1114.40) scale(0.5,1)" font-size="21.5" text-anchor="middle" fill="#B5A71B" fill-opacity="0.88">&quot;40&quot;</text>
<text class="nm" x="201" y="1140.30" textLength="81.6" lengthAdjust="spacingAndGlyphs" font-size="20.2" fill="#1d1d1b" stroke="#1d1d1b" stroke-width="0.95" stroke-linejoin="round" vector-effect="non-scaling-stroke">13 NANACAMILPA</text>
<text class="nu" transform="translate(325.2,1140.30) scale(0.5,1)" font-size="21.5" text-anchor="middle" fill="#B5A71B" fill-opacity="0.88">&quot;39&quot;</text>
</g>
<!--/MAP-->
</svg>
</body></html>
